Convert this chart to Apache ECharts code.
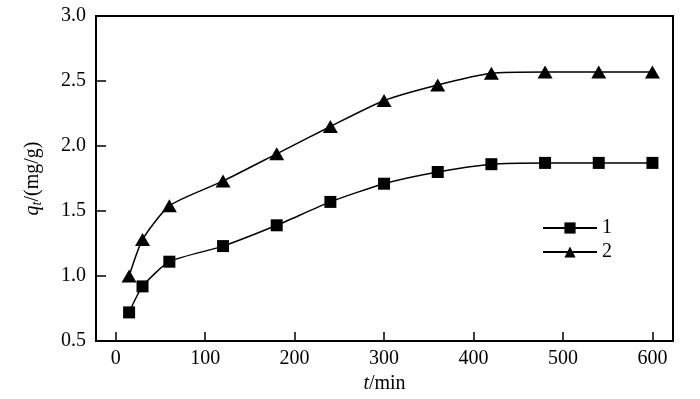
<!DOCTYPE html>
<html>
<head>
<meta charset="utf-8">
<script src="https://cdn.jsdelivr.net/npm/echarts@6/dist/echarts.min.js"></script>
<style>
  html, body { margin: 0; padding: 0; background: #fff; }
  #main { width: 700px; height: 399px; }
</style>
</head>
<body>
<div id="main"></div>
<script>
// 时间 (min)
var times = [15, 30, 60, 120, 180, 240, 300, 360, 420, 480, 540, 600];
// 1
var series1 = [0.72, 0.92, 1.11, 1.23, 1.39, 1.57, 1.71, 1.80, 1.86, 1.87, 1.87, 1.87];
// 2
var series2 = [1.00, 1.28, 1.54, 1.73, 1.94, 2.15, 2.35, 2.47, 2.56, 2.57, 2.57, 2.57];
var xTicks = [0, 100, 200, 300, 400, 500, 600];

var font = 'Liberation Serif';

function pairs(xs, ys) {
  return xs.map(function (x, i) { return [x, ys[i]]; });
}

var chart = echarts.init(document.getElementById('main'), null, { renderer: 'canvas' });

var option = {
  backgroundColor: '#fff',
  animation: false,
  grid: {
    left: 96,
    right: 27,
    top: 16,
    bottom: 58,
    show: true,
    borderColor: '#000',
    borderWidth: 2
  },
  legend: {
    orient: 'vertical',
    left: 537,
    top: 213,
    itemWidth: 54,
    itemHeight: 14,
    itemGap: 4,
    textStyle: { fontFamily: font, fontSize: 20, color: '#000', lineHeight: 14 },
    data: ['1', '2']
  },
  xAxis: {
    type: 'value',
    min: -22,
    max: 623,
    name: '{i|t}/min',
    nameLocation: 'middle',
    nameGap: 32,
    nameTextStyle: {
      fontFamily: font, fontSize: 20, color: '#000',
      rich: { i: { fontFamily: font, fontSize: 20, fontStyle: 'italic', color: '#000' } }
    },
    splitLine: { show: false },
    axisLine: { onZero: false, lineStyle: { color: '#000', width: 2 } },
    axisTick: { inside: true, length: 9, customValues: xTicks, lineStyle: { color: '#000', width: 1.5 } },
    axisLabel: {
      customValues: xTicks,
      margin: 8,
      fontFamily: font, fontSize: 20, color: '#000'
    }
  },
  yAxis: {
    type: 'value',
    min: 0.5,
    max: 3.0,
    interval: 0.5,
    name: '{i|q}{s|t}/(mg/g)',
    nameLocation: 'middle',
    nameGap: 52,
    nameTextStyle: {
      fontFamily: font, fontSize: 20, color: '#000',
      rich: {
        i: { fontFamily: font, fontSize: 20, fontStyle: 'italic', color: '#000' },
        s: { fontFamily: font, fontSize: 14, fontStyle: 'italic', color: '#000', verticalAlign: 'bottom', padding: [8, 0, 0, 0] }
      }
    },
    splitLine: { show: false },
    axisLine: { onZero: false, lineStyle: { color: '#000', width: 2 } },
    axisTick: { inside: true, length: 10, lineStyle: { color: '#000', width: 1.5 } },
    axisLabel: {
      margin: 10,
      fontFamily: font, fontSize: 20, color: '#000',
      formatter: function (v) { return v.toFixed(1); }
    }
  },
  series: [
    {
      name: '1',
      type: 'line',
      data: pairs(times, series1),
      smooth: 0.2,
      symbol: 'rect',
      symbolSize: 12,
      itemStyle: { color: '#000' },
      lineStyle: { color: '#000', width: 1.5 }
    },
    {
      name: '2',
      type: 'line',
      data: pairs(times, series2),
      smooth: 0.2,
      symbol: 'triangle',
      symbolSize: [15, 13],
      itemStyle: { color: '#000' },
      lineStyle: { color: '#000', width: 1.5 }
    }
  ]
};

chart.setOption(option);
</script>
</body>
</html>
